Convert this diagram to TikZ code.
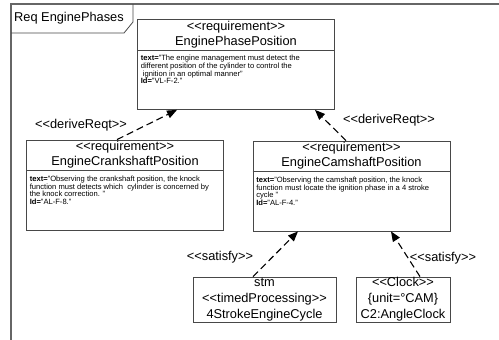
\documentclass[tikz,border=0pt]{standalone}
\usepackage{fontspec}
\setmainfont{Liberation Sans}
\usetikzlibrary{arrows.meta}
\definecolor{lineGray}{HTML}{484848}
\definecolor{frameGray}{HTML}{666666}
\newcommand{\reqfont}{\fontsize{12.8}{16}\selectfont}
\newcommand{\reqbodyfont}{\fontsize{7.6}{7.7}\selectfont}
\newcommand{\stereo}[1]{<{}<#1>{}>}
\newcommand{\requirement}[4]{%
 \node[reqbox] (#1) at (#2) {};%
 \draw[lineGray,line width=.8pt] ([yshift=-31pt]#1.north west) -- ([yshift=-31pt]#1.north east);%
 \node[bigtext] at ([yshift=-8pt]#1.north) {\stereo{requirement}};%
 \node[bigtext] at ([yshift=-23pt]#1.north) {#3};%
 \node[smalltext] at ([xshift=3.5pt,yshift=-36pt]#1.north west) {#4};%
}

\begin{document}
\begin{tikzpicture}[x=1pt,y=-1pt,
  every node/.style={inner sep=0pt},
  reqbox/.style={draw=lineGray,line width=.8pt,minimum width=197pt,minimum height=90pt},
  blockbox/.style={draw=lineGray,line width=.8pt,minimum height=45pt,align=center,font=\reqfont},
  bigtext/.style={font=\reqfont},
  smalltext/.style={font=\reqbodyfont,align=left,anchor=north west},
  relation/.style={black,line width=1.1pt,dash pattern=on 7pt off 4pt,-{Triangle[length=10pt,width=8pt]}}]
  \useasboundingbox (0,0) rectangle (499,340);
  % frame
  \draw[frameGray,line width=2pt] (11,340) -- (11,4) -- (499,4);
  \draw[lineGray,line width=.8pt] (11,33) -- (124,33) -- (133,22) -- (133,4);
  \node[bigtext,anchor=west] (title) at (14,18) {Req EnginePhases};
  % requirements
  \requirement{phase}{236,64.5}{EnginePhasePosition}{\textbf{text=}"The engine management must detect the\\different position of the cylinder to control the\\\ ignition in an optimal manner"\\\textbf{Id=}"VL-F-2."}
  \requirement{crank}{125,185}{EngineCrankshaftPosition}{\textbf{text=}"Observing the crankshaft position, the knock\\function must detects which\ \ cylinder is concerned by\\the knock correction. "\\\textbf{Id=}"AL-F-8."}
  \requirement{cam}{351.5,186}{EngineCamshaftPosition}{\textbf{text=}"Observing the camshaft position, the knock\\function must locate the ignition phase in a 4 stroke\\cycle "\\\textbf{Id=}"AL-F-4."}
  % blocks
  \node[blockbox,minimum width=143pt] (cycle) at (264.5,299.5) {stm\\\stereo{timedProcessing}\\4StrokeEngineCycle};
  \node[blockbox,minimum width=94pt] (clock) at (403,299.5) {\stereo{Clock}\\\{unit=°CAM\}\\C2:AngleClock};
  % relations
  \draw[relation] ([xshift=-8pt]crank.north) -- ([xshift=-59pt]phase.south);
  \draw[relation] ([xshift=-5.5pt]cam.north) -- ([xshift=79pt]phase.south);
  \draw[relation] ([xshift=-11.5pt]cycle.north) -- ([xshift=-53.5pt]cam.south);
  \draw[relation] ([xshift=17pt]clock.north) -- ([xshift=39.5pt]cam.south);
  \node[bigtext] (deriveL) at (81,125) {\stereo{deriveReqt}};
  \node[bigtext] (deriveR) at (389,120) {\stereo{deriveReqt}};
  \node[bigtext] (satisfyL) at (220,257) {\stereo{satisfy}};
  \node[bigtext] (satisfyR) at (443,258) {\stereo{satisfy}};
\end{tikzpicture}
\end{document}
